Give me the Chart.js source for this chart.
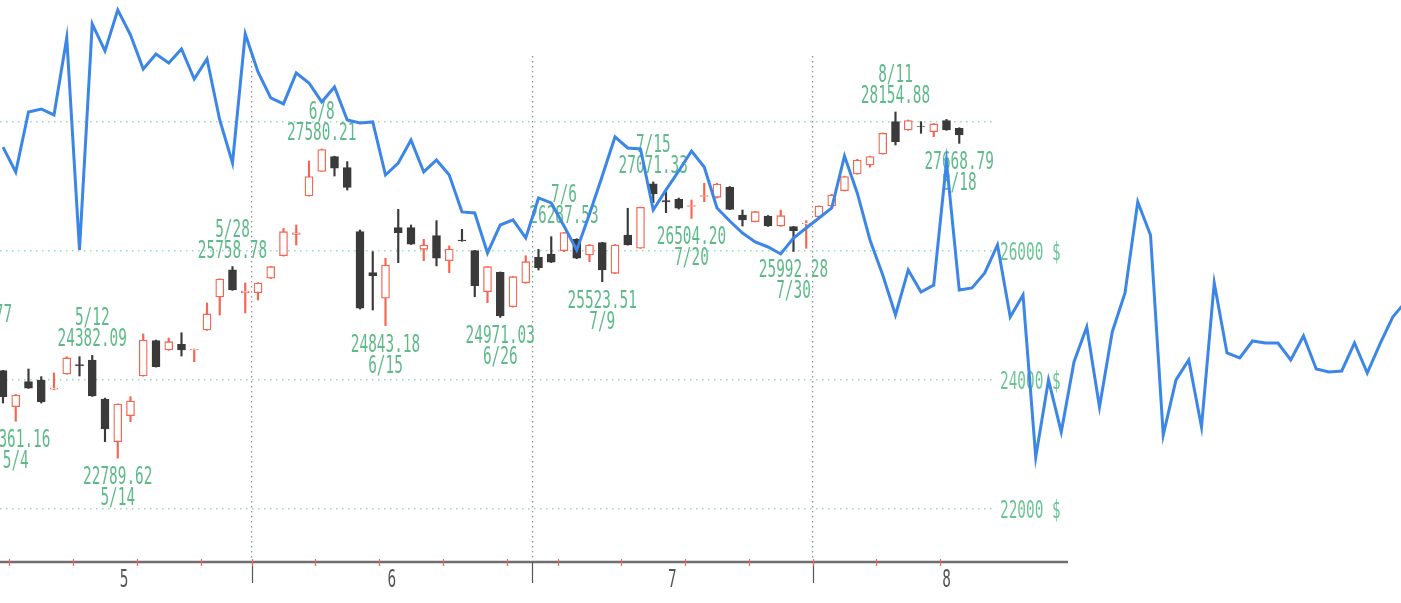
<!DOCTYPE html>
<html>
<head>
<meta charset="utf-8">
<script src="https://cdn.jsdelivr.net/npm/chart.js@4.4.0/dist/chart.umd.min.js"></script>
<style>
  html, body { margin: 0; padding: 0; background: #fff; overflow: hidden; }
  #wrap { position: relative; width: 1401px; height: 603px; }
  #candles { position: absolute; left: 0; top: 0; }
  #overlay { position: absolute; left: 0; top: 0; pointer-events: none; }
</style>
</head>
<body>
<div id="wrap">
  <canvas id="candles" width="1068" height="603"></canvas>
  <canvas id="overlay" width="1401" height="603"></canvas>
</div>
<script>
// Daily sessions shown (2020)
var preDates = ['4/29', '4/30'];
var dates = [
  '5/1', '5/4', '5/5', '5/6', '5/7', '5/8', '5/11', '5/12', '5/13', '5/14',
  '5/15', '5/18', '5/19', '5/20', '5/21', '5/22', '5/26', '5/27', '5/28', '5/29',
  '6/1', '6/2', '6/3', '6/4', '6/5', '6/8', '6/9', '6/10', '6/11', '6/12',
  '6/15', '6/16', '6/17', '6/18', '6/19', '6/22', '6/23', '6/24', '6/25', '6/26',
  '6/29', '6/30', '7/1', '7/2', '7/6', '7/7', '7/8', '7/9', '7/10', '7/13',
  '7/14', '7/15', '7/16', '7/17', '7/20', '7/21', '7/22', '7/23', '7/24', '7/27',
  '7/28', '7/29', '7/30', '7/31', '8/3', '8/4', '8/5', '8/6', '8/7', '8/10',
  '8/11', '8/12', '8/13', '8/14', '8/17', '8/18'
];
var opens = [
  24145, 23587, 23974, 24000, 23860, 24094, 24240, 24310, 23706, 23044,
  23447, 24063, 24610, 24466, 24554, 24470, 24775, 25287, 25706, 25350,
  25354, 25577, 25927, 26255, 26853, 27232, 27462, 27291, 26299, 25664,
  25267, 26361, 26361, 26026, 26237, 25850, 26170, 26005, 25369, 25670,
  25137, 25509, 25902, 25953, 26005, 26181, 25938, 26129, 25654, 26248,
  26042, 27039, 26780, 26801, 26690, 26845, 26832, 26987, 26558, 26454,
  26542, 26387, 26377, 26420, 26532, 26697, 26935, 27193, 27333, 27503,
  28004, 27876, 27930, 27849, 28020, 27902
];
var highs = [
  24150, 23775, 24171, 24052, 24110, 24362, 24362, 24382.09, 23720, 23630,
  23742, 24714, 24620, 24650, 24733, 24480, 25194, 25570, 25758.78, 25504,
  25510, 25760, 26350, 26403, 27395, 27580.21, 27470, 27384, 26325, 25990,
  25887, 26646, 26403, 26181, 26470, 26078, 26336, 26010, 25760, 25675,
  25605, 25927, 26026, 26222, 26287.53, 26190, 26100, 26135, 26100, 26662,
  26680, 27071.33, 26919, 26820, 26790, 27049, 27050, 27000, 26635, 26615,
  26550, 26635, 26380, 26470, 26700, 26880, 27160, 27420, 27470, 27830,
  28154.88, 28030, 28004, 27975, 28040, 27910
];
var lows = [
  23644, 23361.16, 23870, 23644, 23850, 24090, 24062, 23745, 23044, 22789.62,
  23354, 24060, 24200, 24460, 24372, 24284, 24770, 25008, 25390, 25039,
  25240, 25570, 25920, 26093, 26850, 27232, 27162, 26945, 25100, 25085,
  24843.18, 25819, 26100, 25850, 25768, 25664, 26150, 25292, 25199, 24971.03,
  25130, 25500, 25705, 25820, 25990, 25880, 25834, 25523.51, 25650, 26090,
  26040, 26749, 26594, 26650, 26504.20, 26764, 26820, 26640, 26387, 26450,
  26380, 26380, 25992.28, 26042, 26530, 26690, 26930, 27190, 27300, 27500,
  27643, 27870, 27824, 27772, 27870, 27668.79
];
var closes = [
  23742, 23768, 23872, 23664, 23875, 24342, 24220, 23752, 23241, 23628,
  23675, 24620, 24207, 24594, 24466, 24475, 25024, 25566, 25396, 25380,
  25504, 25757, 26299, 26280, 27152, 27572, 27282, 26987, 25112, 25613,
  25783, 26284, 26104, 26093, 25887, 26031, 26160, 25462, 25757, 24992,
  25602, 25834, 25741, 25825, 26287, 25887, 26093, 25706, 26093, 26093,
  26677, 26884, 26760, 26662, 26705, 26860, 27038, 26646, 26480, 26609,
  26387, 26547, 26315, 26430, 26697, 26868, 27152, 27410, 27462, 27824,
  27694, 28020, 27925, 27969, 27876, 27798
];

// Blue overlay series, one value per session step
var lineValues = [
  27610, 27225, 28155, 28201, 28108, 29302, 26016, 29519, 29100, 29736,
  29348, 28821, 29054, 28914, 29131, 28666, 28976, 28031, 27364, 29364,
  28775, 28372, 28279, 28759, 28604, 28310, 28542, 28031, 27984, 28000,
  27178, 27364, 27721, 27225, 27411, 27178, 26605, 26589, 25969, 26403,
  26481, 26202, 26822, 26744, 26388, 26016, 26574, 27163, 27767, 27597,
  27581, 26636, 26946, 27240, 27550, 27302, 26667, 26465, 26279, 26140,
  26062, 25954, 26202, 26357, 26512, 26667, 27473, 26899, 26171, 25628,
  25008, 25706, 25365, 25473, 27380, 25396, 25427, 25659, 26093, 24977,
  25318, 22807, 24001, 23195, 24280, 24822, 23582, 24745, 25349, 26760,
  26248, 23148, 24001, 24310, 23272, 25504, 24419, 24342, 24605, 24574,
  24574, 24310, 24683, 24171, 24125, 24140, 24574, 24109, 24559, 24977,
  25210
];

// High / low call-outs
var markDates  = ['4/29', '5/4', '5/12', '5/14', '5/28', '6/8', '6/15', '6/26', '7/6', '7/9', '7/15', '7/20', '7/30', '8/11', '8/18'];
var markKinds  = ['high', 'low', 'high', 'low', 'high', 'high', 'low', 'low', 'high', 'low', 'high', 'low', 'low', 'high', 'low'];
var markValues = [24764.77, 23361.16, 24382.09, 22789.62, 25758.78, 27580.21, 24843.18, 24971.03, 26287.53, 25523.51, 27071.33, 26504.20, 25992.28, 28154.88, 27668.79];

// Axis labels
var monthLabels = ['5', '6', '7', '8'];
var monthSessions = [20, 22, 22, 21];
var yTicks = [22000, 24000, 26000, 28000];
var yTickLabels = ['22000 $', '24000 $', '26000 $', ''];

var UP = '#f5654f';
var DOWN = '#3a3a3a';
var GREEN = '#5fba89';
var NARROW = '"DejaVu Sans Mono", "Liberation Mono", monospace';

// Pixel layout of the reference
var STEP = 12.75;
var X_MIN = -0.235;
var Y_MIN = 21164;

function indexOfDate(d) {
    var i = dates.indexOf(d);
    if (i >= 0) return i;
    return -(preDates.length - preDates.indexOf(d));
}

function toDay(d) {
    var p = d.split('/');
    return new Date(2020, +p[0] - 1, +p[1]);
}

// Week and month separators, derived from the session dates
var weekTicks = [];
var monthTicks = [];
var allDays = preDates.concat(dates);
for (var i = 1; i < allDays.length; i++) {
    var a = toDay(allDays[i - 1]), b = toDay(allDays[i]);
    var pos = i - preDates.length - 0.5;
    if (pos <= 0) continue;
    if ((b - a) / 86400000 > 1) weekTicks.push(pos);
    if (a.getMonth() !== b.getMonth()) monthTicks.push(pos);
}
var monthCenters = [];
var start = 0;
monthSessions.forEach(function(n) {
    monthCenters.push(start + (n - 1) / 2);
    start += n;
});

function drawNarrow(ctx, text, x, y, align) {
    ctx.save();
    ctx.translate(x, y);
    ctx.scale(0.6, 1);
    ctx.textAlign = align;
    ctx.textBaseline = 'alphabetic';
    ctx.fillText(text, 0, 0);
    ctx.restore();
}

var axisPlugin = {
    id: 'axisDecor',
    afterDraw: function(chart) {
        var ctx = chart.ctx, xs = chart.scales.x, bottom = chart.chartArea.bottom - 1;
        ctx.save();
        ctx.strokeStyle = '#6e6e6e';
        ctx.lineWidth = 2.5;
        ctx.beginPath();
        ctx.moveTo(0, bottom);
        ctx.lineTo(chart.width, bottom);
        ctx.stroke();
        ctx.lineWidth = 1.2;
        ctx.strokeStyle = '#555';
        monthTicks.forEach(function(v) {
            var x = Math.round(xs.getPixelForValue(v)) + 0.5;
            ctx.beginPath();
            ctx.moveTo(x, bottom);
            ctx.lineTo(x, bottom + 21);
            ctx.stroke();
        });
        ctx.strokeStyle = UP;
        weekTicks.forEach(function(v) {
            var x = Math.round(xs.getPixelForValue(v)) + 0.5;
            ctx.beginPath();
            ctx.moveTo(x, bottom - 3);
            ctx.lineTo(x, bottom + 4);
            ctx.stroke();
        });
        // month numbers under the axis
        ctx.font = '24px ' + NARROW;
        ctx.fillStyle = '#555';
        xs.ticks.forEach(function(t) {
            var k = monthCenters.indexOf(t.value);
            if (k >= 0) drawNarrow(ctx, monthLabels[k], xs.getPixelForValue(t.value), bottom + 25, 'center');
        });
        ctx.restore();
    }
};

var textPlugin = {
    id: 'markText',
    afterDatasetsDraw: function(chart) {
        var ctx = chart.ctx, xs = chart.scales.x, ys = chart.scales.y;
        ctx.save();
        ctx.font = '24px ' + NARROW;
        ctx.fillStyle = GREEN;
        markDates.forEach(function(d, k) {
            var x = xs.getPixelForValue(indexOfDate(d));
            var y = ys.getPixelForValue(markValues[k]);
            var val = markValues[k].toFixed(2);
            if (markKinds[k] === 'high') {
                drawNarrow(ctx, val, x, y - 9, 'center');
                drawNarrow(ctx, d, x, y - 30, 'center');
            } else {
                drawNarrow(ctx, val, x, y + 26, 'center');
                drawNarrow(ctx, d, x, y + 47, 'center');
            }
        });
        // price labels on the right axis
        ctx.fillStyle = '#6cc596';
        ys.ticks.forEach(function(t, k) {
            if (!yTickLabels[k]) return;
            drawNarrow(ctx, yTickLabels[k], chart.chartArea.right + 5, ys.getPixelForValue(t.value) + 9, 'left');
        });
        ctx.restore();
    }
};

var candleArea = 995;
var bodyData = dates.map(function(d, i) { return { x: i, y: [opens[i], closes[i]] }; });
var wickData = dates.map(function(d, i) { return { x: i, y: [lows[i], highs[i]] }; });
var isUp = dates.map(function(d, i) { return closes[i] >= opens[i]; });

new Chart(document.getElementById('candles').getContext('2d'), {
    type: 'bar',
    data: {
        datasets: [{
            label: 'body',
            data: bodyData,
            backgroundColor: isUp.map(function(u) { return u ? '#ffffff' : DOWN; }),
            borderColor: isUp.map(function(u) { return u ? UP : DOWN; }),
            borderWidth: 1.3,
            borderSkipped: false,
            barThickness: 8,
            grouped: false
        }, {
            label: 'wick',
            data: wickData,
            backgroundColor: isUp.map(function(u) { return u ? UP : DOWN; }),
            borderWidth: 0,
            barThickness: 1.5,
            grouped: false
        }]
    },
    options: {
        responsive: false,
        animation: false,
        layout: { padding: { top: 56, left: 0, right: 0, bottom: 0 } },
        plugins: { legend: { display: false }, tooltip: { enabled: false } },
        scales: {
            x: {
                type: 'linear',
                offset: false,
                min: X_MIN,
                max: X_MIN + candleArea / STEP,
                afterBuildTicks: function(s) {
                    s.ticks = monthTicks.concat(monthCenters).sort(function(a, b) { return a - b; })
                        .map(function(v) { return { value: v }; });
                },
                afterFit: function(s) { s.height = 40; },
                ticks: { display: false, autoSkip: false, maxRotation: 0 },
                grid: {
                    offset: false,
                    drawTicks: false,
                    lineWidth: 1.2,
                    color: function(c) {
                        return c.tick && monthTicks.indexOf(c.tick.value) >= 0 ? '#8a8a8a' : 'rgba(0,0,0,0)';
                    }
                },
                border: { display: false, dash: [1.5, 3.5] }
            },
            y: {
                type: 'linear',
                position: 'right',
                min: Y_MIN,
                max: 29022,
                afterBuildTicks: function(s) {
                    s.ticks = yTicks.map(function(v) { return { value: v }; });
                },
                afterFit: function(s) { s.width = 1068 - candleArea; },
                ticks: { display: false },
                grid: { drawTicks: false, color: '#95d9bd', lineWidth: 1.4 },
                border: { display: false, dash: [1.5, 4.5] }
            }
        }
    },
    plugins: [axisPlugin, textPlugin]
});

new Chart(document.getElementById('overlay').getContext('2d'), {
    type: 'line',
    data: {
        datasets: [{
            label: 'line',
            data: lineValues.map(function(v, k) { return { x: k, y: v }; }),
            borderColor: '#3b86e6',
            borderWidth: 3,
            pointRadius: 0,
            tension: 0,
            fill: false
        }]
    },
    options: {
        responsive: false,
        animation: false,
        layout: { padding: { top: 0, left: 0, right: 0, bottom: 40 } },
        plugins: { legend: { display: false }, tooltip: { enabled: false } },
        scales: {
            x: { type: 'linear', display: false, min: X_MIN, max: X_MIN + 1401 / STEP },
            y: { type: 'linear', display: false, min: Y_MIN, max: 29890 }
        }
    }
});
</script>
</body>
</html>
